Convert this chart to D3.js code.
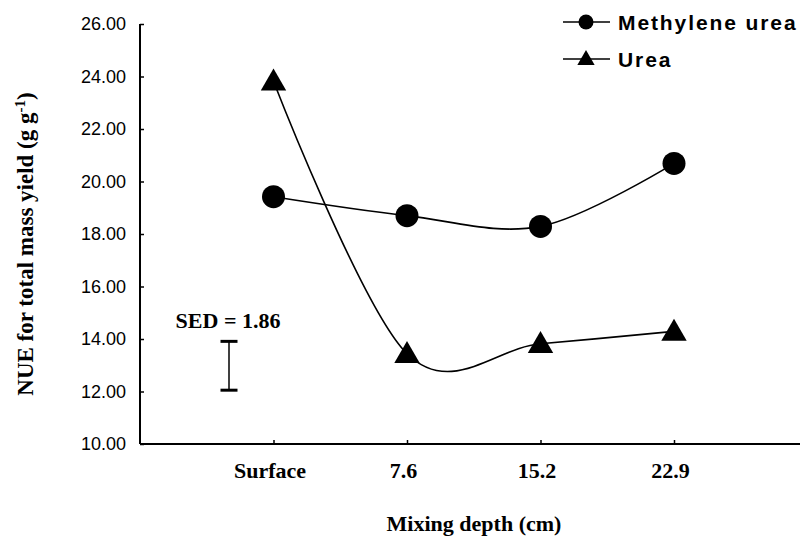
<!DOCTYPE html>
<html>
<head>
  <meta charset="utf-8">
  <title>NUE vs mixing depth</title>
  <script src="https://d3js.org/d3.v7.min.js"></script>
  <style>
    body { margin: 0; background: #fff; }
  </style>
</head>
<body>
<script>
// data
var categories = ["Surface", "7.6", "15.2", "22.9"];
var methylene = [19.42, 18.70, 18.29, 20.69];
var urea = [23.82, 13.44, 13.82, 14.29];
var yTicks = [10, 12, 14, 16, 18, 20, 22, 24, 26];
var sedLow = 12.05, sedValue = 1.86;

var width = 800, height = 538;
var svg = d3.select("body").append("svg").attr("width", width).attr("height", height);

var x = d3.scaleLinear().domain([0, 5]).range([140, 807.5]);
var y = d3.scaleLinear().domain([10, 26]).range([444, 24]);

// axes
var yAxis = d3.axisLeft(y).tickValues(yTicks).tickSize(-4).tickPadding(14)
  .tickFormat(d3.format(".2f"));
var gy = svg.append("g").attr("transform", "translate(140,0)").call(yAxis);
gy.select(".domain").attr("stroke-width", 2).attr("d", "M0,24V444");
gy.selectAll(".tick line").attr("stroke-width", 1.5);
gy.selectAll("text").attr("font-family", "Liberation Sans, Arial, sans-serif")
  .attr("font-size", 18).attr("fill", "#000");

var xAxis = d3.axisBottom(x).tickValues([1, 2, 3, 4]).tickSize(-4).tickPadding(18)
  .tickFormat(function(d) { return categories[d - 1]; });
var gx = svg.append("g").attr("transform", "translate(0,444)").call(xAxis);
gx.select(".domain").attr("stroke-width", 2).attr("d", "M140,0H800");
gx.selectAll(".tick line").attr("stroke-width", 1.5);
gx.selectAll("text").attr("font-family", "Liberation Serif, Times New Roman, serif")
  .attr("font-weight", "bold").attr("font-size", 22).attr("fill", "#000")
  .attr("dx", -4);

// axis titles
svg.append("text")
  .attr("x", 474).attr("y", 531)
  .attr("text-anchor", "middle")
  .attr("font-family", "Liberation Serif, Times New Roman, serif")
  .attr("font-weight", "bold").attr("font-size", 22)
  .text("Mixing depth (cm)");

var yt = svg.append("text")
  .attr("transform", "translate(33,244) rotate(-90)")
  .attr("text-anchor", "middle")
  .attr("font-family", "Liberation Serif, Times New Roman, serif")
  .attr("font-weight", "bold").attr("font-size", 23);
yt.append("tspan").text("NUE for total mass yield (g g");
yt.append("tspan").attr("dy", -8).attr("font-size", 15).text("-1");
yt.append("tspan").attr("dy", 8).text(")");

// lines
var line = d3.line()
  .x(function(d, i) { return x(i + 1); })
  .y(function(d) { return y(d); })
  .curve(d3.curveCardinal.tension(0));

svg.append("path").datum(methylene).attr("d", line)
  .attr("fill", "none").attr("stroke", "#000").attr("stroke-width", 1.6);
svg.append("path").datum(urea).attr("d", line)
  .attr("fill", "none").attr("stroke", "#000").attr("stroke-width", 1.6);

// markers
svg.selectAll(".dot").data(methylene).enter().append("circle")
  .attr("cx", function(d, i) { return x(i + 1); })
  .attr("cy", function(d) { return y(d); })
  .attr("r", 11.5).attr("fill", "#000");

var tri = d3.symbol().type(d3.symbolTriangle).size(280);
svg.selectAll(".tri").data(urea).enter().append("path")
  .attr("d", tri)
  .attr("transform", function(d, i) { return "translate(" + x(i + 1) + "," + (y(d) + 2) + ")"; })
  .attr("fill", "#000");

// SED bar
var sx = 229;
var sed = svg.append("g").attr("stroke", "#000");
sed.append("line").attr("x1", sx).attr("x2", sx)
  .attr("y1", y(sedLow)).attr("y2", y(sedLow + sedValue)).attr("stroke-width", 1.5);
sed.append("line").attr("x1", sx - 8.5).attr("x2", sx + 8.5)
  .attr("y1", y(sedLow)).attr("y2", y(sedLow)).attr("stroke-width", 3);
sed.append("line").attr("x1", sx - 8.5).attr("x2", sx + 8.5)
  .attr("y1", y(sedLow + sedValue)).attr("y2", y(sedLow + sedValue)).attr("stroke-width", 3);
svg.append("text").attr("x", 228).attr("y", 328).attr("text-anchor", "middle")
  .attr("font-family", "Liberation Serif, Times New Roman, serif")
  .attr("font-weight", "bold").attr("font-size", 22)
  .text("SED = " + sedValue.toFixed(2));

// legend
var legend = [
  { name: "Methylene urea", shape: "circle", y: 22 },
  { name: "Urea", shape: "triangle", y: 59 }
];
var lg = svg.selectAll(".leg").data(legend).enter().append("g")
  .attr("transform", function(d) { return "translate(0," + d.y + ")"; });
lg.append("line").attr("x1", 563).attr("x2", 610).attr("stroke", "#000").attr("stroke-width", 1.6);
lg.filter(function(d) { return d.shape === "circle"; }).append("circle")
  .attr("cx", 586).attr("r", 7.5).attr("fill", "#000");
lg.filter(function(d) { return d.shape === "triangle"; }).append("path")
  .attr("d", d3.symbol().type(d3.symbolTriangle).size(130))
  .attr("transform", "translate(586,1)").attr("fill", "#000");
lg.append("text").attr("x", 618).attr("y", 8)
  .attr("font-family", "Liberation Sans, Arial, sans-serif")
  .attr("font-weight", "bold").attr("font-size", 21).attr("letter-spacing", 1.9)
  .text(function(d) { return d.name; });
</script>
</body>
</html>
